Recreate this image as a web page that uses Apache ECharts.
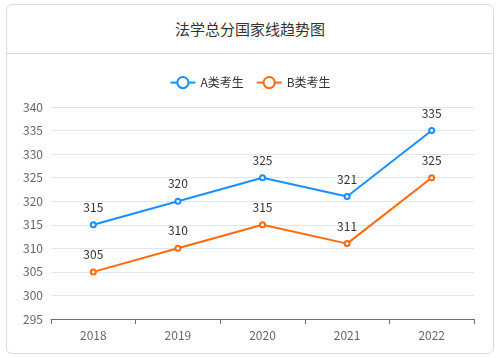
<!DOCTYPE html>
<html><head><meta charset="utf-8">
<script src="https://cdn.jsdelivr.net/npm/echarts@6/dist/echarts.min.js"></script>
<style>
html,body{margin:0;padding:0;background:#fff;width:500px;height:358px;overflow:hidden;font-family:"Noto Sans CJK SC","Noto Sans",sans-serif;}
#card{position:absolute;left:6px;top:4px;width:486px;height:348px;border:1px solid #dcdcdc;border-radius:6px;}
#hd{height:48px;border-bottom:1px solid #dcdcdc;text-align:center;line-height:48px;font-size:15px;color:#333;}
#chart{width:486px;height:299px;}
</style></head>
<body>
<div id="card"><div id="hd">法学总分国家线趋势图</div><div id="chart"></div></div>
<script>
const years = ['2018','2019','2020','2021','2022'];
const seriesA = [315,320,325,321,335];
const seriesB = [305,310,315,311,325];
const names = ['A类考生','B类考生'];
const chart = echarts.init(document.getElementById('chart'));
chart.setOption({
  animation:false,
  textStyle:{fontFamily:'"Noto Sans CJK SC","Noto Sans",sans-serif'},
  legend:{top:17,left:'center',itemWidth:25,itemHeight:14,itemGap:12,textStyle:{color:'#333',fontSize:12},data:names},
  grid:{left:44,right:19,top:53,bottom:34},
  xAxis:{type:'category',data:years,axisLine:{lineStyle:{color:'#6e7079'}},axisTick:{show:true},axisLabel:{color:'#666',fontSize:12,margin:10}},
  yAxis:{type:'value',min:295,max:340,interval:5,axisLabel:{color:'#666',fontSize:12},splitLine:{lineStyle:{color:'#e0e6f1'}}},
  series:[
    {name:names[0],type:'line',data:seriesA,symbol:'emptyCircle',symbolSize:5,color:'#1890ff',lineStyle:{width:2},label:{show:true,position:'top',color:'#333',fontSize:12,distance:8}},
    {name:names[1],type:'line',data:seriesB,symbol:'emptyCircle',symbolSize:5,color:'#ff6a0d',lineStyle:{width:2},label:{show:true,position:'top',color:'#333',fontSize:12,distance:8}}
  ]
});
</script>
</body></html>
